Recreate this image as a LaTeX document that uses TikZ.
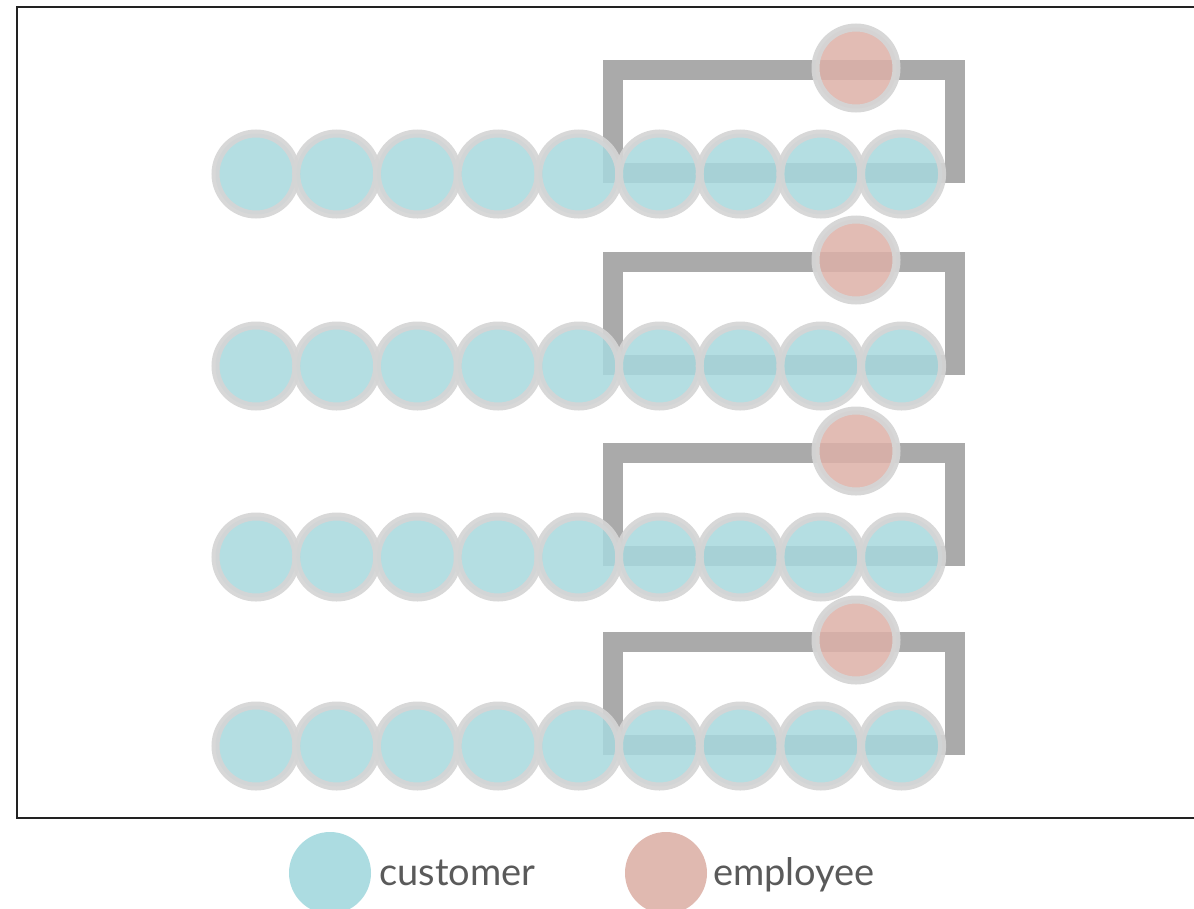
\documentclass[tikz,border=0pt]{standalone}
\usepackage{fontspec}
\setmainfont{Lato}
\definecolor{teal}{HTML}{A7D9DE}
\definecolor{ring}{HTML}{D5D5D5}
\definecolor{emp}{HTML}{DDB1A8}
\definecolor{bar}{HTML}{AAAAAA}
\definecolor{legteal}{HTML}{ACDCE1}
\definecolor{legemp}{HTML}{E0B9B0}
\definecolor{txt}{HTML}{5A5A5A}
\definecolor{frame}{HTML}{222222}
\tikzset{
  cust/.style={circle, minimum size=81pt, inner sep=0pt, draw=ring, line width=8pt, fill=teal, fill opacity=0.85, draw opacity=0.92},
  empl/.style={circle, minimum size=81pt, inner sep=0pt, draw=ring, line width=8pt, fill=emp, fill opacity=0.85, draw opacity=0.95},
  bracket/.style={draw=bar, line width=20pt, line join=miter},
  legdot/.style={circle, minimum size=82pt, inner sep=0pt},
  legtext/.style={anchor=base west, inner sep=0pt, text=txt, font=\fontsize{38pt}{41pt}\selectfont}
}
\begin{document}
\begin{tikzpicture}[x=1pt,y=-1pt]
\useasboundingbox (0,0) rectangle (1194,908);
\fill[white] (0,0) rectangle (1194,908);
\draw[frame, line width=2pt] (1200,7) -- (17,7) -- (17,818) -- (1200,818);
\foreach \r/\y in {1/174,2/366,3/557,4/746}{
  \coordinate (b\r a) at (613,\y-104);
  \coordinate (b\r b) at (955,\y-1);
  \draw[bracket] (b\r a) rectangle (b\r b);
  \foreach \i in {0,...,8}{
    \node[cust] (c\r-\i) at (256+80.7*\i,\y) {};
  }
  \node[empl] (e\r) at (856,\y-106) {};
}
\node[legdot, fill=legteal] (lc) at (330,873) {};
\node[legtext] (lct) at (379,885) {customer};
\node[legdot, fill=legemp] (le) at (666,873) {};
\node[legtext] (let) at (713,885) {employee};
\end{tikzpicture}
\end{document}
